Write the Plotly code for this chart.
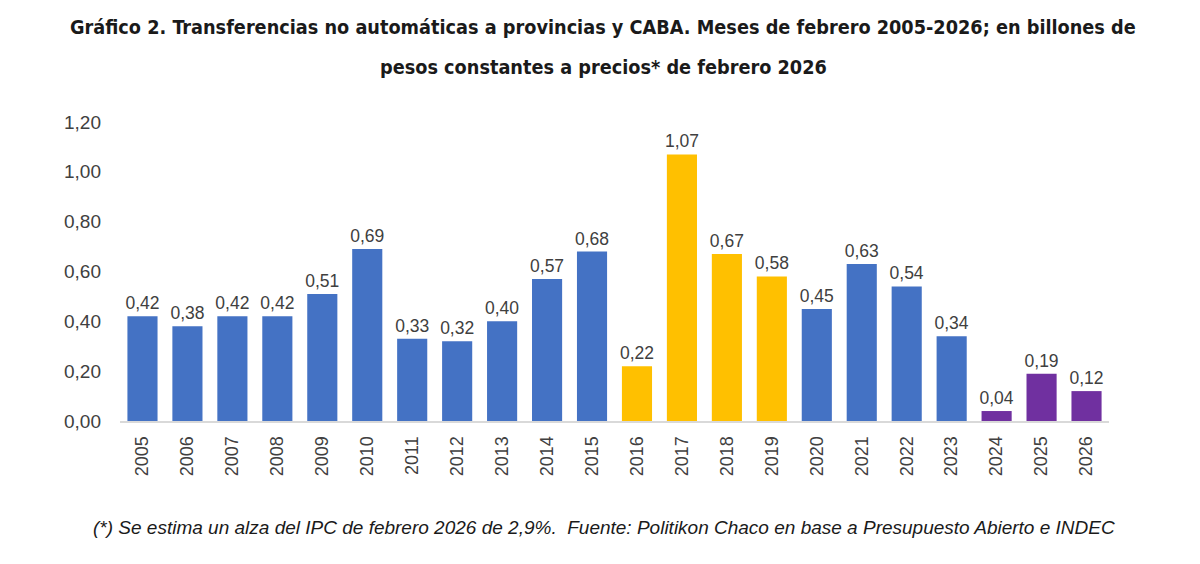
import plotly.graph_objects as go

years = [str(y) for y in range(2005, 2027)]
values = [0.42, 0.38, 0.42, 0.42, 0.51, 0.69, 0.33, 0.32, 0.40, 0.57, 0.68,
          0.22, 1.07, 0.67, 0.58, 0.45, 0.63, 0.54, 0.34, 0.04, 0.19, 0.12]
groups = ["a"] * 11 + ["b"] * 4 + ["a"] * 4 + ["c"] * 3

BLUE = "#4472C4"
YELLOW = "#FFC000"
PURPLE = "#7030A0"
color_map = {"a": BLUE, "b": YELLOW, "c": PURPLE}
colors = [color_map[g] for g in groups]

labels = [f"{v:.2f}".replace(".", ",") for v in values]
yticks = [0, 0.2, 0.4, 0.6, 0.8, 1.0, 1.2]
yticktext = [f"{t:.2f}".replace(".", ",") for t in yticks]

title1 = "<b>Gráfico 2. Transferencias no automáticas a provincias y CABA. Meses de febrero 2005-2026; en billones de</b>"
title2 = "<b>pesos constantes a precios* de febrero 2026</b>"
note = "<i>(*) Se estima un alza del IPC de febrero 2026 de 2,9%.  Fuente: Politikon Chaco en base a Presupuesto Abierto e INDEC</i>"

# page has an 8px body margin, so the figure is offset by 8px
OFF = 8
W, H = 1200 - OFF, 564 - OFF
ML, MR, MT, MB = 120 - OFF, 91, 122 - OFF, 143
plot_h = H - MT - MB
plot_w = W - ML - MR


def py(pix):
    # page pixel (from top) -> paper y
    return (564 - MB - pix) / plot_h


def px(pix):
    return (pix - OFF - ML) / plot_w


TITLE_FONT = dict(size=19.7, color="#1a1a1a", family="DejaVu Sans Condensed")

fig = go.Figure()

fig.add_bar(
    x=years, y=values, marker_color=colors, marker_line_width=0,
    text=labels, textposition="outside", cliponaxis=False,
    constraintext="none", textangle=0,
    textfont=dict(size=17.5, color="#404040", family="Liberation Sans"),
)

fig.update_layout(
    width=W, height=H,
    margin=dict(l=ML, r=MR, t=MT, b=MB),
    paper_bgcolor="white", plot_bgcolor="white",
    bargap=0.33,
    showlegend=False,
    font=dict(family="Liberation Sans", color="#404040"),
    annotations=[
        dict(text=title1, x=px(603), y=py(27), xref="paper", yref="paper",
             yanchor="middle", showarrow=False, font=TITLE_FONT),
        dict(text=title2, x=px(603), y=py(68), xref="paper", yref="paper",
             yanchor="middle", showarrow=False, font=TITLE_FONT),
        dict(text=note, x=px(604), y=py(527), xref="paper", yref="paper",
             yanchor="middle", showarrow=False,
             font=dict(size=19, color="#1a1a1a", family="Liberation Sans")),
    ],
)

fig.update_xaxes(
    type="category", tickangle=-90, tickfont=dict(size=18, color="#404040"),
    showline=True, linecolor="#D9D9D9", linewidth=2, ticks="", showgrid=False,
    ticklabelstandoff=6,
)
fig.update_yaxes(
    range=[0, 1.2], tickvals=yticks, ticktext=yticktext,
    tickfont=dict(size=19, color="#404040"), showgrid=False,
    zeroline=False, showline=False, ticks="", ticklabelstandoff=18,
)

fig.write_html("out.html")
